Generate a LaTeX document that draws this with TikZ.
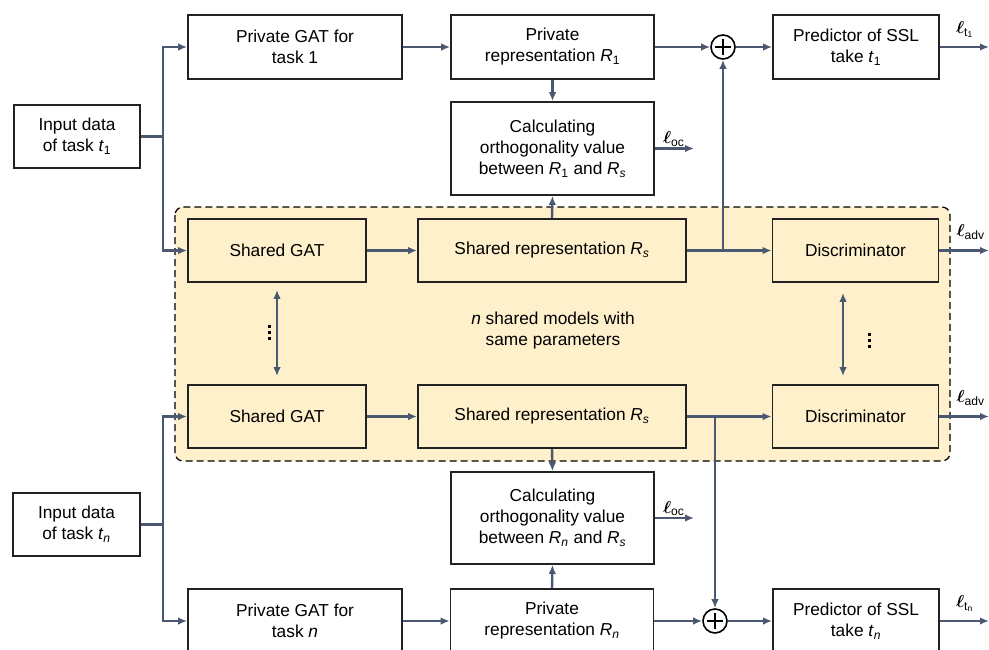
\documentclass[tikz,border=0pt]{standalone}
\usepackage{fontspec}
\setmainfont{Liberation Sans}
\usepackage{bm}
\usetikzlibrary{arrows.meta,calc}
\pgfdeclarelayer{back}
\pgfdeclarelayer{mid}
\pgfsetlayers{back,mid,main}
\definecolor{lc}{HTML}{4A5872}
\definecolor{bc}{HTML}{222222}
\definecolor{yf}{HTML}{FFF0CC}
\newcommand{\ssb}[1]{\textsubscript{#1}}
\newcommand{\ellb}{{\fontsize{19}{21}\selectfont$\bm{\ell}$}}
\begin{document}
\begin{tikzpicture}[x=1pt,y=-1pt,
  font=\fontsize{17.3}{21}\selectfont,
  bx/.style={draw=bc, line width=1.7pt, align=center, inner sep=0pt, fill=white},
  shbox/.style={bx, fill=yf},
  arr/.style={draw=lc, line width=2.4pt, -{Latex[length=9pt,width=7.5pt]}},
  ln/.style={draw=lc, line width=2.4pt},
  dbl/.style={draw=lc, line width=2.4pt, {Latex[length=9pt,width=7.5pt]}-{Latex[length=9pt,width=7.5pt]}},
  opl/.style={draw=black, line width=1.6pt, circle, minimum size=24pt, inner sep=0pt, fill=white},
  lbl/.style={inner sep=0pt, anchor=south west},
  dot/.style={fill=black}
]
\useasboundingbox (0,0) rectangle (989,649);
\clip (0,0) rectangle (989,649);

% shared region
\begin{pgfonlayer}{back}
\draw[draw=black, line width=1.3pt, fill=yf, rounded corners=8pt, dash pattern=on 7pt off 4pt] (175,207) rectangle (950,461);
\end{pgfonlayer}

% top row
\node[bx, minimum width=126pt, minimum height=63pt] (in1) at (77,136.5) {Input data\\of task \textit{t}\ssb{1}};
\node[bx, minimum width=214pt, minimum height=64pt] (pg1) at (295,47) {Private GAT for\\task 1};
\node[bx, minimum width=203pt, minimum height=64pt] (pr1) at (552.5,47) {Private\\representation \textit{R}\ssb{1}};
\node[opl] (op1) at (723,47) {};
\node[bx, minimum width=166pt, minimum height=64pt] (pd1) at (856,47) {Predictor of SSL\\take \textit{t}\ssb{1}};
\node[bx, minimum width=203pt, minimum height=93pt] (oc1) at (552.5,148.5) {Calculating\\orthogonality value\\between \textit{R}\ssb{1} and \textit{R}\ssb{\textit{s}}};

% shared
\node[shbox, minimum width=178pt, minimum height=63pt] (sg1) at (277,250.5) {Shared GAT};
\node[shbox, minimum width=268pt, minimum height=63pt] (sr1) at (552,250.5) {Shared representation \textit{R}\ssb{\textit{s}}};
\node[shbox, minimum width=166pt, minimum height=63pt] (d1) at (855.5,250.5) {Discriminator};
\node[shbox, minimum width=178pt, minimum height=63pt] (sg2) at (277,416.5) {Shared GAT};
\node[shbox, minimum width=268pt, minimum height=63pt] (sr2) at (552,416.5) {Shared representation \textit{R}\ssb{\textit{s}}};
\node[shbox, minimum width=166pt, minimum height=63pt] (d2) at (855.5,416.5) {Discriminator};
\node[align=center, inner sep=0pt] (mid) at (553,331) {\textit{n} shared models with\\same parameters};

% vertical ellipses
\foreach \x/\y in {269/326, 869/334}{
  \fill[dot] (\x-1.5,\y-1.5) rectangle (\x+1.5,\y+1.5);
  \fill[dot] (\x-1.5,\y+4.5) rectangle (\x+1.5,\y+7.5);
  \fill[dot] (\x-1.5,\y+10.5) rectangle (\x+1.5,\y+13.5);
}

% bottom row
\node[bx, minimum width=127pt, minimum height=63pt] (inn) at (76.5,524.5) {Input data\\of task \textit{t}\ssb{\textit{n}}};
\node[bx, minimum width=203pt, minimum height=92pt] (ocn) at (552.5,518) {Calculating\\orthogonality value\\between \textit{R}\ssb{\textit{n}} and \textit{R}\ssb{\textit{s}}};
\node[bx, minimum width=214pt, minimum height=64pt] (pgn) at (295,621) {Private GAT for\\task \textit{n}};
\node[bx, minimum width=203pt, minimum height=64pt] (prn) at (552,621) {Private\\representation \textit{R}\ssb{\textit{n}}};
\node[opl] (opn) at (715,621) {};
\node[bx, minimum width=166pt, minimum height=64pt] (pdn) at (856,621) {Predictor of SSL\\take \textit{t}\ssb{\textit{n}}};

% plus signs
\foreach \o in {op1,opn}{
  \draw[line width=1.7pt] ($(\o)+(-8,0)$) -- ($(\o)+(8,0)$);
  \draw[line width=1.7pt] ($(\o)+(0,-8)$) -- ($(\o)+(0,8)$);
}

% coordinates
\coordinate (j1) at (163,136.5);
\coordinate (jn) at (163,524.5);
\coordinate (e1) at (989,47);
\coordinate (e2) at (989,250.5);
\coordinate (e3) at (989,416.5);
\coordinate (e4) at (989,621);
\coordinate (o1) at (694,148.5);
\coordinate (o2) at (694,518);

\begin{pgfonlayer}{mid}
% top connectors
\draw[ln] (in1.east) -- (j1);
\draw[arr] (j1) |- (pg1.west);
\draw[arr] (j1) |- (sg1.west);
\draw[arr] (pg1) -- (pr1);
\draw[arr] (pr1) -- (op1);
\draw[arr] (op1) -- (pd1);
\draw[arr] (pd1.east) -- (e1);
\draw[arr] (pr1.south) -- (oc1.north);
\draw[arr] (oc1.east) -- (o1);
\draw[arr] (sr1.north) -- (oc1.south);
\draw[arr] (sg1) -- (sr1);
\draw[arr] (sr1.east) -- (d1.west);
\draw[arr] (op1 |- sr1.east) -- (op1.south);
\draw[arr] (d1.east) -- (e2);

% double arrows
\draw[dbl] ([yshift=-7pt]sg1.south) -- ([yshift=8pt]sg2.north);
\draw[dbl] ([xshift=-12.5pt,yshift=-10pt]d1.south) -- ([xshift=-12.5pt,yshift=8pt]d2.north);

% bottom connectors
\draw[ln] (inn.east) -- (jn);
\draw[arr] (jn) |- (sg2.west);
\draw[arr] (jn) |- (pgn.west);
\draw[arr] (sg2) -- (sr2);
\draw[arr] (sr2.east) -- (d2.west);
\draw[arr] (opn |- sr2.east) -- (opn.north);
\draw[arr] (d2.east) -- (e3);
\draw[arr] (sr2.south) -- (ocn.north);
\draw[arr] (prn.north) -- (ocn.south);
\draw[arr] (ocn.east) -- (o2);
\draw[arr] (pgn) -- (prn);
\draw[arr] (prn) -- (opn);
\draw[arr] (opn) -- (pdn);
\draw[arr] (pdn.east) -- (e4);
\end{pgfonlayer}

% loss labels
\node[lbl] (l1) at ($(pd1.east)+(16,-9)$) {\ellb\ssb{t\ssb{1}}};
\node[lbl] (l2) at ($(oc1.east)+(8,-2)$) {\ellb\ssb{oc}};
\node[lbl] (l3) at ($(d1.east)+(17,-11)$) {\ellb\ssb{adv}};
\node[lbl] (l4) at ($(d2.east)+(17,-11)$) {\ellb\ssb{adv}};
\node[lbl] (l5) at ($(ocn.east)+(8,-2)$) {\ellb\ssb{oc}};
\node[lbl] (l6) at ($(pdn.east)+(16,-9)$) {\ellb\ssb{t\ssb{n}}};
\end{tikzpicture}
\end{document}
